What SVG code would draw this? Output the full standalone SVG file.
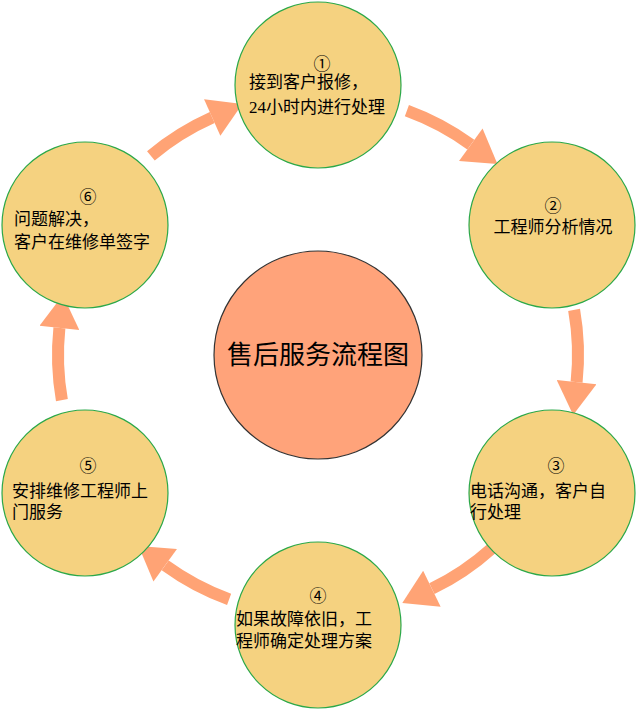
<svg xmlns="http://www.w3.org/2000/svg" width="637" height="710" viewBox="0 0 637 710">
<style>
.n{fill:#F5D280;stroke:#2BA84A;stroke-width:1.2}
.t{font-family:"Liberation Serif","Noto Sans CJK SC",serif;font-size:17px;fill:#000}
.c{text-anchor:middle}
.a{fill:none;stroke:#FFA375;stroke-width:12}
</style>
<defs><marker id="h" markerUnits="userSpaceOnUse" markerWidth="40" markerHeight="40" refX="0" refY="17" orient="auto" viewBox="0 0 30 34"><path d="M0,0 L28,17 L0,34 z" fill="#FFA375"/></marker></defs>
<g id="connectors">
<path class="a" marker-end="url(#h)" d="M406.9,110.7 A260,260 0 0 1 470.8,144.7"/>
<path class="a" marker-end="url(#h)" d="M574.1,309.9 A260,260 0 0 1 576.6,382.2"/>
<path class="a" marker-end="url(#h)" d="M492,548.2 A260,260 0 0 1 431.9,588.7"/>
<path class="a" marker-end="url(#h)" d="M229.1,599.3 A260,260 0 0 1 165.2,565.3"/>
<path class="a" marker-end="url(#h)" d="M61.9,400.1 A260,260 0 0 1 59.4,327.8"/>
<path class="a" marker-end="url(#h)" d="M150.9,155.8 A260,260 0 0 1 212.2,117.5"/>
</g>
<g id="center"><circle cx="318" cy="355" r="104" fill="#FFA37A" stroke="#333" stroke-width="1.2"/><text class="t c" x="318" y="364" style="font-size:26px">售后服务流程图</text></g>
<g id="n1"><circle class="n" cx="318" cy="85" r="83"/><text class="t c" x="322" y="70">①</text><text class="t" x="249" y="88">接到客户报修，</text><text class="t" x="249" y="113">24小时内进行处理</text></g>
<g id="n2"><circle class="n" cx="552" cy="225" r="83"/><text class="t c" x="553" y="212">②</text><text class="t c" x="553" y="233">工程师分析情况</text></g>
<g id="n3"><circle class="n" cx="552" cy="493" r="83"/><text class="t c" x="556" y="472">③</text><text class="t" x="470" y="497">电话沟通，客户自</text><text class="t" x="470" y="518">行处理</text></g>
<g id="n4"><circle class="n" cx="318" cy="625" r="83"/><text class="t c" x="318" y="602">④</text><text class="t" x="236" y="625">如果故障依旧，工</text><text class="t" x="236" y="647">程师确定处理方案</text></g>
<g id="n5"><circle class="n" cx="85" cy="493" r="83"/><text class="t c" x="88" y="472">⑤</text><text class="t" x="12" y="497">安排维修工程师上</text><text class="t" x="12" y="518">门服务</text></g>
<g id="n6"><circle class="n" cx="85" cy="225" r="83"/><text class="t c" x="88" y="203">⑥</text><text class="t" x="14" y="225">问题解决，</text><text class="t" x="14" y="248">客户在维修单签字</text></g>
</svg>
